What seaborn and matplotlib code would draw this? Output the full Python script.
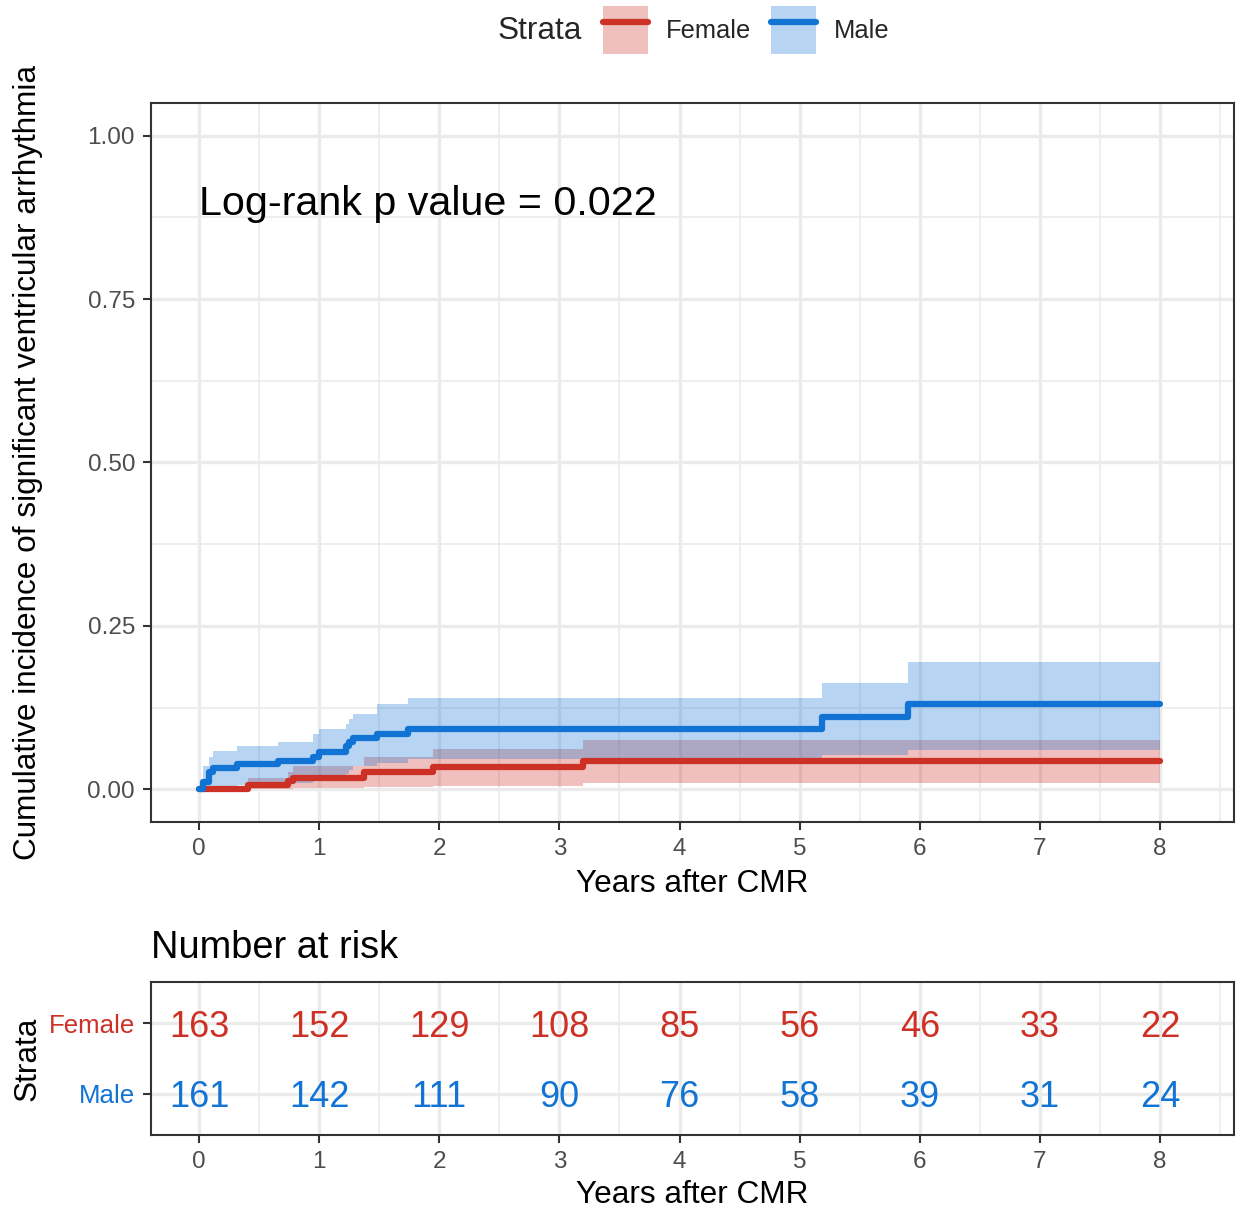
import numpy as np
import pandas as pd
import matplotlib
matplotlib.use("Agg")
import matplotlib.pyplot as plt
import seaborn as sns
from matplotlib.patches import Patch
from matplotlib.lines import Line2D

# ---------------- data ----------------
strata_names = ["Female", "Male"]

female_time = [0, 0.41, 0.74, 0.78, 1.37, 1.95, 3.20, 8.0]
female_est = [0, 0.006, 0.012, 0.018, 0.027, 0.034, 0.043, 0.043]
female_upper = [0, 0.018, 0.027, 0.036, 0.050, 0.061, 0.076, 0.076]
female_lower = [0, 0.0, 0.001, 0.002, 0.003, 0.005, 0.009, 0.009]

male_time = [0, 0.03, 0.08, 0.12, 0.32, 0.66, 0.95, 1.00, 1.22, 1.25, 1.28, 1.48, 1.74, 5.19, 5.90, 8.0]
male_est = [0, 0.011, 0.026, 0.033, 0.038, 0.044, 0.050, 0.057, 0.066, 0.072, 0.078, 0.085, 0.093, 0.110, 0.131, 0.131]
male_upper = [0, 0.035, 0.050, 0.058, 0.066, 0.073, 0.084, 0.092, 0.100, 0.107, 0.115, 0.130, 0.139, 0.163, 0.195, 0.195]
male_lower = [0, 0.0, 0.002, 0.004, 0.006, 0.010, 0.014, 0.018, 0.024, 0.030, 0.036, 0.041, 0.046, 0.052, 0.060, 0.060]

risk_times = [0, 1, 2, 3, 4, 5, 6, 7, 8]
female_risk = [163, 152, 129, 108, 85, 56, 46, 33, 22]
male_risk = [161, 142, 111, 90, 76, 58, 39, 31, 24]

y_ticks = [0.0, 0.25, 0.5, 0.75, 1.0]
y_ticklabels = ["0.00", "0.25", "0.50", "0.75", "1.00"]
pvalue_text = "Log-rank p value = 0.022"

# ---------------- style ----------------
RED = "#CD3125"
BLUE = "#1173D4"
palette = {"Female": RED, "Male": BLUE}
GRID = "#EBEBEB"
DARK = "#333333"
TICKLAB = "#4D4D4D"

sns.set_theme(style="white")
plt.rcParams["font.family"] = ["Liberation Sans", "DejaVu Sans"]

W, H = 1238, 1209
fig = plt.figure(figsize=(W / 100, H / 100), dpi=100)


def px_axes(left, top, right, bottom):
    return fig.add_axes([left / W, 1 - bottom / H, (right - left) / W, (bottom - top) / H])


XLIM = (-0.40, 8.616)


def style_axes(a):
    for s in a.spines.values():
        s.set_color(DARK)
        s.set_linewidth(1.5)
    a.tick_params(which="major", direction="out", length=6, width=1.5, color=DARK,
                  bottom=True, left=True, labelsize=17.5, pad=5.5)
    a.tick_params(axis="x", labelcolor=TICKLAB)
    a.tick_params(which="minor", length=0, bottom=False, left=False)
    a.set_axisbelow(True)


# ---------------- main plot ----------------
ax = px_axes(151, 103, 1234, 822)

df = pd.concat([
    pd.DataFrame({"time": female_time, "est": female_est, "strata": "Female"}),
    pd.DataFrame({"time": male_time, "est": male_est, "strata": "Male"}),
])

ax.fill_between(female_time, female_lower, female_upper, step="post",
                color=RED, alpha=0.3, linewidth=0, zorder=2)
ax.fill_between(male_time, male_lower, male_upper, step="post",
                color=BLUE, alpha=0.3, linewidth=0, zorder=2)

sns.lineplot(data=df, x="time", y="est", hue="strata", palette=palette,
             hue_order=strata_names, drawstyle="steps-post", estimator=None,
             linewidth=4.5, legend=False, ax=ax, zorder=3)

ax.set_xlim(*XLIM)
ax.set_ylim(-0.05, 1.05)
ax.set_xticks(risk_times)
ax.set_xticks(np.arange(0.5, 8.6, 1.0), minor=True)
ax.set_yticks(y_ticks)
ax.set_yticklabels(y_ticklabels)
ax.set_yticks([0.125, 0.375, 0.625, 0.875], minor=True)
ax.grid(which="major", color=GRID, linewidth=2.4, zorder=0)
ax.grid(which="minor", color=GRID, linewidth=1.2, zorder=0)
style_axes(ax)
ax.tick_params(axis="y", labelcolor=TICKLAB)
ax.set_xlabel("Years after CMR", fontsize=22.7, color="black", labelpad=6.5)
ax.set_ylabel("Cumulative incidence of significant ventricular arrhythmia",
              fontsize=22.7, color="black")
ax.yaxis.set_label_coords(-0.100, 0.5)
ax.text(0, 0.896, pvalue_text, fontsize=29.7, ha="left", va="center", color="black")

# ---------------- legend ----------------
handles = [
    (Patch(facecolor=RED, alpha=0.3, edgecolor="none"), Line2D([], [], color=RED, lw=4.5)),
    (Patch(facecolor=BLUE, alpha=0.3, edgecolor="none"), Line2D([], [], color=BLUE, lw=4.5)),
]
fig.text(498 / W, 1 - 31 / H, "Strata", fontsize=22.7, ha="left", va="center")
fig.legend(handles, strata_names, loc="center left", bbox_to_anchor=(603 / W, 1 - 30 / H),
           ncol=2, frameon=False, fontsize=18.4, handlelength=1.75, handleheight=2.5,
           handletextpad=0.7, columnspacing=0.8, borderpad=0, borderaxespad=0)

# ---------------- risk table ----------------
ax2 = px_axes(151, 982, 1234, 1135)
ax2.set_xlim(*XLIM)
ax2.set_ylim(-0.59, 1.59)
for t, f, m in zip(risk_times, female_risk, male_risk):
    ax2.text(t, 1, str(f), color=RED, fontsize=26, ha="center", va="center_baseline")
    ax2.text(t, 0, str(m), color=BLUE, fontsize=26, ha="center", va="center_baseline")
ax2.set_xticks(risk_times)
ax2.set_xticks(np.arange(0.5, 8.6, 1.0), minor=True)
ax2.set_yticks([1, 0])
ax2.set_yticklabels(strata_names)
ax2.grid(which="major", color=GRID, linewidth=2.4, zorder=0)
ax2.grid(which="minor", axis="x", color=GRID, linewidth=1.2, zorder=0)
style_axes(ax2)
ax2.tick_params(axis="y", labelsize=18.6)
for lab, c in zip(ax2.get_yticklabels(), [RED, BLUE]):
    lab.set_color(c)
ax2.set_xlabel("Years after CMR", fontsize=22.7, color="black", labelpad=5.0)
ax2.set_ylabel("Strata", fontsize=22.7, color="black")
ax2.yaxis.set_label_coords(-0.100, 0.5)
ax2.text(0, 1.222, "Number at risk", transform=ax2.transAxes, fontsize=27.4,
         ha="left", va="center", color="black")

fig.savefig("out.png", dpi=100, facecolor="white")
